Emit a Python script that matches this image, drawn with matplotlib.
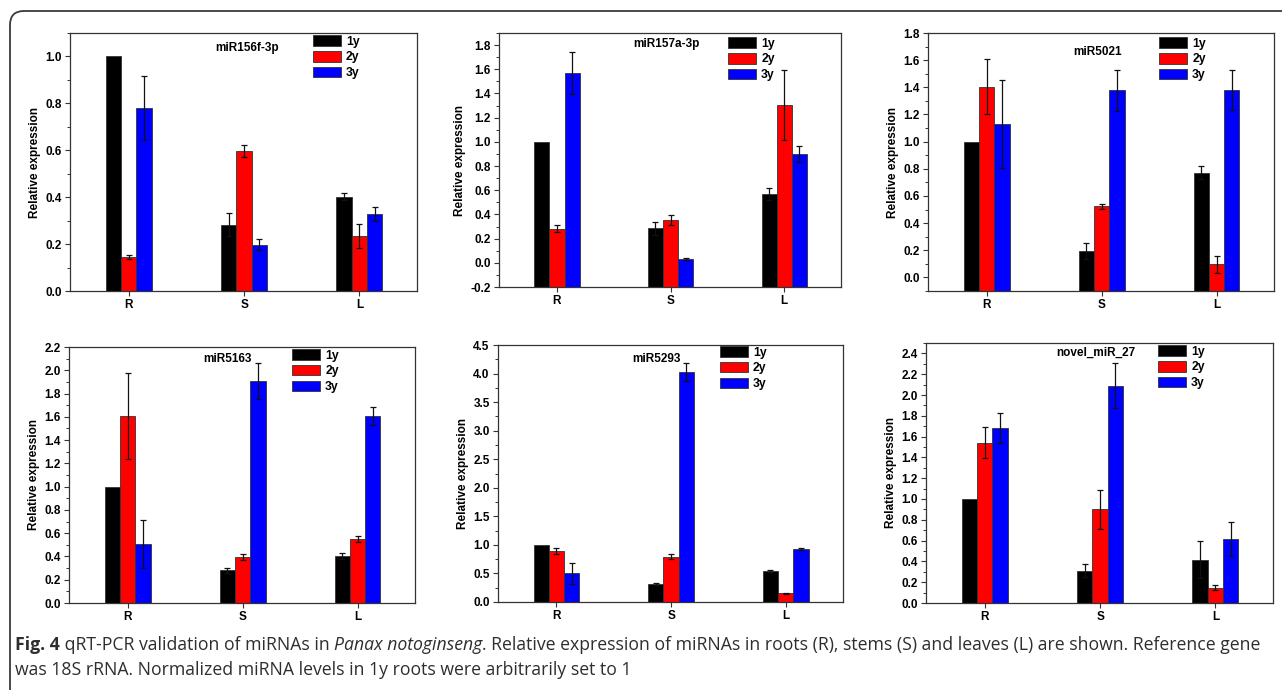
import numpy as np
import matplotlib.pyplot as plt
from matplotlib.patches import Patch, FancyBboxPatch
from matplotlib.ticker import MultipleLocator, FormatStrFormatter
from matplotlib.transforms import IdentityTransform

tissues = ['R', 'S', 'L']
years = ['1y', '2y', '3y']
colors = ['#000000', '#ff0000', '#0000ff']

titles = ['miR156f-3p', 'miR157a-3p', 'miR5021', 'miR5163', 'miR5293', 'novel_miR_27']

# rows = 1y / 2y / 3y, columns = R / S / L
mir156_mean = [[1.0, 0.283, 0.402], [0.145, 0.597, 0.235], [0.78, 0.197, 0.328]]
mir156_err = [[0, 0.05, 0.014], [0.01, 0.025, 0.05], [0.135, 0.024, 0.03]]

mir157_mean = [[1.0, 0.286, 0.568], [0.283, 0.355, 1.305], [1.571, 0.032, 0.90]]
mir157_err = [[0, 0.055, 0.052], [0.03, 0.04, 0.29], [0.175, 0.005, 0.065]]

mir5021_mean = [[1.0, 0.197, 0.772], [1.405, 0.523, 0.096], [1.129, 1.378, 1.38]]
mir5021_err = [[0, 0.06, 0.05], [0.2, 0.02, 0.064], [0.325, 0.15, 0.145]]

mir5163_mean = [[1.0, 0.281, 0.407], [1.607, 0.398, 0.55], [0.507, 1.911, 1.607]]
mir5163_err = [[0, 0.02, 0.025], [0.37, 0.025, 0.03], [0.21, 0.155, 0.075]]

mir5293_mean = [[1.0, 0.316, 0.544], [0.894, 0.795, 0.152], [0.503, 4.021, 0.923]]
mir5293_err = [[0, 0.01, 0.025], [0.047, 0.05, 0.012], [0.185, 0.158, 0.018]]

novel27_mean = [[1.0, 0.311, 0.417], [1.543, 0.902, 0.148], [1.684, 2.089, 0.616]]
novel27_err = [[0, 0.064, 0.177], [0.145, 0.188, 0.024], [0.145, 0.218, 0.163]]

means = [mir156_mean, mir157_mean, mir5021_mean, mir5163_mean, mir5293_mean, novel27_mean]
errs = [mir156_err, mir157_err, mir5021_err, mir5163_err, mir5293_err, novel27_err]

ylims = [(0, 1.1), (-0.2, 1.9), (-0.1, 1.8), (0, 2.2), (0, 4.5), (0, 2.5)]
ysteps = [0.2, 0.2, 0.2, 0.2, 0.5, 0.2]

# layout (pixels: left, top, right, bottom)
W, H = 1282, 690
axes_px = [(70, 33, 417, 291), (499, 33, 841, 287), (928, 33, 1274, 291),
           (69, 347, 415, 603), (498, 345, 843, 602), (926, 343, 1273, 603)]
title_pos = [(0.51, 0.942), (0.49, 0.957), (0.49, 0.926),
             (0.457, 0.953), (0.46, 0.946), (0.49, 0.962)]
legend_pos = [(0.700, 0.992), (0.670, 0.984), (0.668, 0.984),
              (0.645, 0.992), (0.643, 0.996), (0.669, 0.992)]

fs = 8.5
plt.rcParams['font.family'] = 'Liberation Sans'
plt.rcParams['font.weight'] = 'bold'

fig = plt.figure(figsize=(W / 100, H / 100), dpi=100)
fig.patch.set_facecolor('white')

x = np.arange(1, 4)
bw = 0.133

for i in range(6):
    l, t, r, b = axes_px[i]
    ax = fig.add_axes([l / W, 1 - b / H, (r - l) / W, (b - t) / H])
    ylo, yhi = ylims[i]
    base = min(0, ylo)
    for k in range(3):
        vals = np.array(means[i][k])
        ax.bar(x + (k - 1) * bw, vals - base, bw, bottom=base, color=colors[k],
               edgecolor='#333333', linewidth=0.6, zorder=2)
        for j in range(3):
            e = errs[i][k][j]
            if e > 0:
                ax.errorbar(x[j] + (k - 1) * bw, vals[j], yerr=e, fmt='none',
                            ecolor='#111111', elinewidth=0.9, capsize=1.9,
                            capthick=0.9, zorder=3)
    ax.set_xlim(0.49, 3.5)
    ax.set_ylim(ylo, yhi)
    ax.set_xticks(x)
    ax.set_xticklabels(tissues, fontsize=fs, fontweight='bold')
    ax.yaxis.set_major_locator(MultipleLocator(ysteps[i]))
    ax.yaxis.set_minor_locator(MultipleLocator(ysteps[i] / 2))
    ax.yaxis.set_major_formatter(FormatStrFormatter('%.1f'))
    for lab in ax.get_yticklabels():
        lab.set_fontsize(fs)
        lab.set_fontweight('bold')
    ax.tick_params(axis='y', which='major', length=3.5, width=0.8, pad=2.5, color='#333333')
    ax.tick_params(axis='y', which='minor', length=2, width=0.7, color='#333333')
    ax.tick_params(axis='x', length=3.5, width=0.8, pad=2, color='#333333')
    for s in ax.spines.values():
        s.set_linewidth(0.9)
        s.set_color('#333333')
    ax.set_ylabel('Relative expression', fontsize=fs, fontweight='bold', labelpad=3)
    ax.text(title_pos[i][0], title_pos[i][1], titles[i], transform=ax.transAxes,
            ha='center', va='center', fontsize=fs, fontweight='bold', zorder=4)
    handles = [Patch(facecolor=colors[k], edgecolor='#333333', linewidth=0.6) for k in range(3)]
    ax.legend(handles, years, loc='upper left', bbox_to_anchor=legend_pos[i],
              frameon=False, handlelength=2.3, handleheight=0.95,
              handletextpad=0.4, labelspacing=0.28, borderpad=0, borderaxespad=0,
              prop=dict(family='Liberation Sans', weight='bold', size=fs + 0.3))

# caption
cap_kw = dict(fontsize=12.7, family='Open Sans', color='#2e2e2e')
prev = fig.text(15 / W, 1 - 650 / H, 'Fig. 4', fontweight='bold', va='baseline', ha='left', **cap_kw)
for txt, style in [(' qRT-PCR validation of miRNAs in ', 'normal'),
                   ('Panax notoginseng', 'italic'),
                   ('. Relative expression of miRNAs in roots (R), stems (S) and leaves (L) are shown. Reference gene', 'normal')]:
    prev = plt.annotate(txt, xy=(1, 0), xycoords=prev, va='bottom', ha='left',
                        fontstyle=style, fontweight='normal', annotation_clip=False, **cap_kw)
fig.text(15 / W, 1 - 675 / H, 'was 18S rRNA. Normalized miRNA levels in 1y roots were arbitrarily set to 1',
         va='baseline', ha='left', fontweight='normal', **cap_kw)

frame = FancyBboxPatch((10, -30), 1330, H - 11 + 30, boxstyle='round,pad=0,rounding_size=14',
                       transform=IdentityTransform(), fill=False, edgecolor='#3a3a3a', linewidth=1.3)
fig.add_artist(frame)

fig.savefig('out.png', dpi=100)
